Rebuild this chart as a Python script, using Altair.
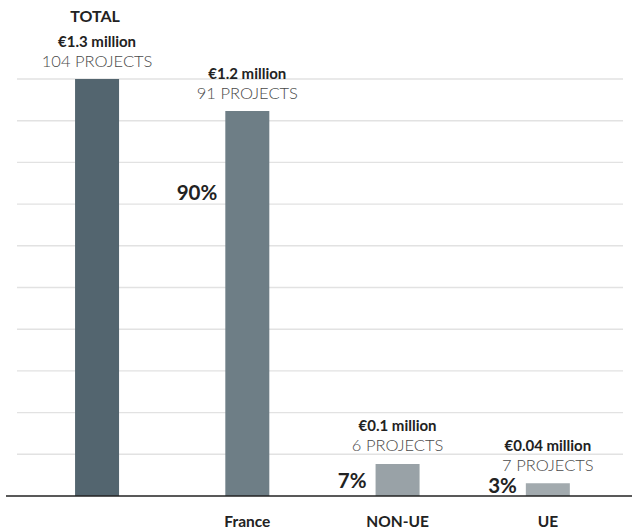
import altair as alt
import pandas as pd

categories = ["TOTAL", "France", "NON-UE", "UE"]
amounts = [1.3, 1.2, 0.1, 0.04]
amount_labels = ["€1.3 million", "€1.2 million", "€0.1 million", "€0.04 million"]
project_labels = ["104  PROJECTS", "91 PROJECTS", "6 PROJECTS", "7 PROJECTS"]
percent_labels = ["", "90%", "7%", "3%"]
bar_colors = ["#53656f", "#6e7e86", "#99a2a7", "#a2aaae"]
grid_values = [0.13, 0.26, 0.39, 0.52, 0.65, 0.78, 0.91, 1.04, 1.17, 1.3]

df = pd.DataFrame({
    "category": categories,
    "amount": amounts,
    "amount_label": amount_labels,
    "project_label": project_labels,
    "percent": percent_labels,
})
grid_df = pd.DataFrame({"amount": grid_values})

FONT = "Lato"

x = alt.X(
    "category:N",
    sort=categories,
    scale=alt.Scale(paddingInner=0.707, paddingOuter=0.37, align=0.522),
    axis=alt.Axis(
        title=None, domain=False, ticks=False, grid=False, labelAngle=0,
        labelPadding=18, labelFontSize=15.5, labelFontWeight="bold",
        labelColor="#222222", labelFont=FONT,
        labelExpr="datum.label == 'TOTAL' ? '' : datum.label",
    ),
)
y_scale = alt.Scale(domain=[0, 1.3], nice=False)
y = alt.Y("amount:Q", scale=y_scale, axis=None)
y0 = alt.Y("zero:Q", scale=y_scale, axis=None)

base = alt.Chart(df).transform_calculate(zero="0")

gridlines = alt.Chart(grid_df).mark_rule(color="#e2e2e2", strokeWidth=1.4).encode(
    y=y, x=alt.value(0), x2=alt.value(606)
)

bars = base.mark_bar(size=44).encode(
    x=x, y=y,
    color=alt.Color("category:N", scale=alt.Scale(domain=categories, range=bar_colors), legend=None),
)

projects = base.mark_text(
    font=FONT, fontSize=16.5, fontWeight=300, color="#4a4a4a", baseline="alphabetic", dy=-12.5
).encode(x=x, y=y, text="project_label:N")

amount_txt = base.mark_text(
    font=FONT, fontSize=15, fontWeight="bold", color="#222222", baseline="alphabetic", dy=-32.5
).encode(x=x, y=y, text="amount_label:N")

total_title = base.transform_filter("datum.category == 'TOTAL'").mark_text(
    font=FONT, fontSize=16, fontWeight="bold", color="#222222", baseline="alphabetic", dy=-57,
    dx=-2
).encode(x=x, y=y, text="category:N")

pct_france = base.transform_filter("datum.category == 'France'").mark_text(
    font=FONT, fontSize=20.5, fontWeight="bold", color="#222222", baseline="alphabetic",
    align="right", dx=-30, dy=89
).encode(x=x, y=y, text="percent:N")

pct_nonue = base.transform_filter("datum.category == 'NON-UE'").mark_text(
    font=FONT, fontSize=20.5, fontWeight="bold", color="#222222", baseline="alphabetic",
    align="right", dx=-31, dy=-8
).encode(x=x, y=y0, text="percent:N")

pct_ue = base.transform_filter("datum.category == 'UE'").mark_text(
    font=FONT, fontSize=20.5, fontWeight="bold", color="#222222", baseline="alphabetic",
    align="right", dx=-31, dy=-3
).encode(x=x, y=y0, text="percent:N")

baseline_rule = base.transform_filter("datum.category == 'TOTAL'").mark_rule(
    color="#222222", strokeWidth=1.6
).encode(x=alt.value(-11), x2=alt.value(615), y=y0)

chart = alt.layer(
    gridlines, bars, baseline_rule, projects, amount_txt, total_title, pct_france, pct_nonue, pct_ue
).properties(
    width=606, height=417,
    background="white",
    autosize=alt.AutoSizeParams(type="none"),
    padding={"left": 17, "top": 79, "right": 9, "bottom": 36},
).configure_view(stroke=None, strokeWidth=0).configure_axis(domain=False, grid=False)

chart.save("out.html", embed_options={"renderer": "svg", "actions": False})
